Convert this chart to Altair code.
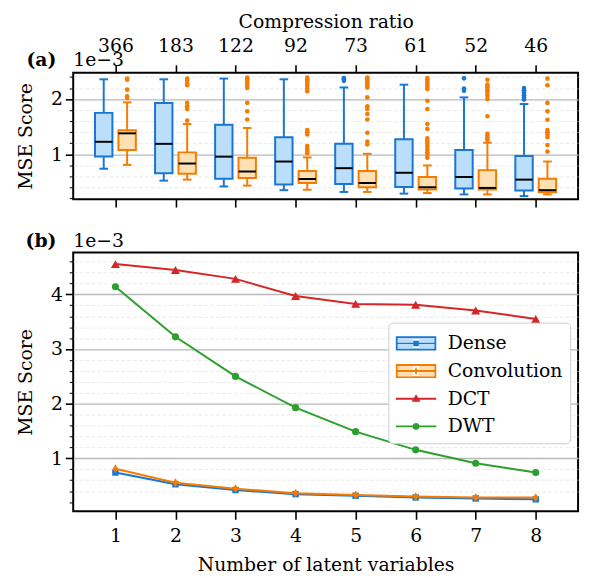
import altair as alt
import pandas as pd

# ---------------- data ----------------
latent = [1, 2, 3, 4, 5, 6, 7, 8]
ratios = [366, 183, 122, 92, 73, 61, 52, 46]
models = ["Dense", "Convolution"]

# box-plot statistics (units of 1e-3)
dense_lo = [0.74, 0.525, 0.42, 0.352, 0.32, 0.29, 0.275, 0.245]
dense_q1 = [0.96, 0.66, 0.56, 0.453, 0.464, 0.41, 0.382, 0.346]
dense_med = [1.227, 1.19, 0.959, 0.87, 0.75, 0.667, 0.59, 0.543]
dense_q3 = [1.75, 1.93, 1.536, 1.31, 1.19, 1.275, 1.078, 0.97]
dense_hi = [2.357, 2.357, 2.37, 2.357, 2.21, 2.26, 2.03, 1.91]

conv_lo = [0.81, 0.543, 0.435, 0.36, 0.32, 0.30, 0.275, 0.275]
conv_q1 = [1.078, 0.65, 0.572, 0.482, 0.405, 0.364, 0.364, 0.316]
conv_med = [1.38, 0.834, 0.69, 0.554, 0.482, 0.405, 0.393, 0.352]
conv_q3 = [1.435, 1.036, 0.94, 0.70, 0.70, 0.59, 0.715, 0.56]
conv_hi = [1.94, 1.548, 1.477, 0.945, 1.01, 0.80, 1.21, 0.87]

dense_out = [
    [], [], [], [],
    [2.38, 2.36, 2.33],
    [],
    [2.375, 2.19, 2.15],
    [2.20, 2.16, 2.12, 2.07, 2.03, 1.99],
]
conv_out = [
    [2.37, 2.35, 2.17, 2.05, 2.02],
    [2.37, 2.33, 2.28, 2.25, 1.93, 1.87, 1.82, 1.61],
    [2.39, 2.36, 2.33, 2.29, 2.25, 2.20, 1.93, 1.78, 1.63],
    [2.39, 2.36, 2.33, 2.29, 2.25, 2.19, 2.14, 1.44, 1.40, 1.36, 1.15, 1.10, 1.06, 1.02],
    [2.39, 2.36, 2.33, 2.30, 2.27, 2.24, 2.21, 2.03, 1.87, 1.82, 1.73, 1.63, 1.39, 1.23, 1.18],
    [2.38, 2.35, 2.31, 2.27, 2.22, 2.18, 1.97, 1.82, 1.55, 1.46, 1.29, 1.24, 1.19, 1.14,
     1.09, 1.04, 0.99, 0.94],
    [2.35, 2.26, 2.23, 2.20, 2.16, 2.12, 2.06, 2.00, 1.69, 1.37, 1.33, 1.29, 1.26],
    [2.37, 2.25, 1.93, 1.78, 1.625, 1.44, 1.40, 1.36, 1.31, 1.17, 1.05],
]

# line chart (units of 1e-3)
line_series = ["Dense", "Convolution", "DCT", "DWT"]
dense_mse = [0.74, 0.525, 0.42, 0.345, 0.315, 0.285, 0.265, 0.25]
conv_mse = [0.81, 0.553, 0.445, 0.36, 0.33, 0.30, 0.282, 0.282]
dct_mse = [4.555, 4.447, 4.284, 3.97, 3.826, 3.81, 3.705, 3.55]
dwt_mse = [4.14, 3.224, 2.50, 1.928, 1.488, 1.156, 0.91, 0.74]

y_ticks_a = [0.2, 0.4, 0.6, 0.8, 1, 1.2, 1.4, 1.6, 1.8, 2, 2.2, 2.4]
y_ticks_b = [0.2, 0.4, 0.6, 0.8, 1, 1.2, 1.4, 1.6, 1.8, 2, 2.2, 2.4, 2.6, 2.8, 3,
             3.2, 3.4, 3.6, 3.8, 4, 4.2, 4.4, 4.6]

# ---------------- tables ----------------
box_rows = []
for m, lo, q1, med, q3, hi in [
    ("Dense", dense_lo, dense_q1, dense_med, dense_q3, dense_hi),
    ("Convolution", conv_lo, conv_q1, conv_med, conv_q3, conv_hi),
]:
    for i, l in enumerate(latent):
        box_rows.append(dict(latent=l, model=m, lo=lo[i], q1=q1[i], med=med[i], q3=q3[i], hi=hi[i]))
box_df = pd.DataFrame(box_rows)

out_rows = []
for m, outs in [("Dense", dense_out), ("Convolution", conv_out)]:
    for i, l in enumerate(latent):
        for v in outs[i]:
            out_rows.append(dict(latent=l, model=m, value=v))
out_df = pd.DataFrame(out_rows)

line_rows = []
for s, vals in zip(line_series, [dense_mse, conv_mse, dct_mse, dwt_mse]):
    for l, v in zip(latent, vals):
        line_rows.append(dict(latent=l, series=s, value=v))
line_df = pd.DataFrame(line_rows)

# ---------------- style ----------------
SERIF = "DejaVu Serif"
FS = 19
BLUE, BLUE_L = "#1976D2", "#BBDEFB"
ORANGE, ORANGE_L = "#F57C00", "#FFE0B2"
RED, GREEN = "#D62728", "#2CA02C"
NONE = "rgba(0,0,0,0)"
INT_TEST = "abs(datum.value - round(datum.value)) < 0.001"
W = 511

xscale = alt.Scale(domain=[0.297, 8.705], nice=False, zero=False)


def y_axis(vals):
    return alt.Axis(
        values=vals,
        labelExpr=f"{INT_TEST} ? format(datum.value, 'd') : ''",
        title="MSE Score",
        grid=True,
        gridColor={"condition": {"test": INT_TEST, "value": "#b8b8b8"}, "value": "#e6e6e6"},
        gridDash={"condition": {"test": INT_TEST, "value": []}, "value": [4, 2]},
        gridWidth={"condition": {"test": INT_TEST, "value": 1.3}, "value": 0.8},
        gridOpacity={"condition": {"test": "datum.value < 0.25", "value": 0}, "value": 1},
        tickSize={"condition": {"test": INT_TEST, "value": 8}, "value": 4},
        tickWidth={"condition": {"test": INT_TEST, "value": 1.6}, "value": 1.0},
        domain=False,
        labelPadding=3,
        titlePadding=15,
        labelOverlap=False,
    )


yaxis_a = y_axis(y_ticks_a)
yaxis_b = y_axis(y_ticks_b)
yscale_a = alt.Scale(domain=[0.19, 2.477], nice=False, zero=False)
yscale_b = alt.Scale(domain=[0.03, 4.767], nice=False, zero=False)

top_axis = alt.Axis(
    orient="top", values=latent, labelExpr=f"{ratios}[datum.value - 1]",
    title="Compression ratio", grid=False, domain=False, tickSize=8, tickWidth=1.6,
    labelPadding=9, titlePadding=6, labelFlush=False,
)
bottom_axis_a = alt.Axis(
    orient="bottom", values=latent, labels=False, title=None, grid=False,
    domain=False, tickSize=8, tickWidth=1.6,
)
xaxis_b = alt.Axis(
    orient="bottom", values=latent, format="d", title="Number of latent variables",
    grid=False, domain=False, tickSize=8, tickWidth=1.6, labelPadding=8,
    titlePadding=10, labelFlush=False,
)

color_m = alt.Color("model:N", scale=alt.Scale(domain=models, range=[BLUE, ORANGE]), legend=None)
fill_m = alt.Fill("model:N", scale=alt.Scale(domain=models, range=[BLUE_L, ORANGE_L]), legend=None)
stroke_m = alt.Stroke("model:N", scale=alt.Scale(domain=models, range=[BLUE, ORANGE]), legend=None)


def XA(f):
    return alt.X(f"{f}:Q", scale=xscale, axis=top_axis)


def YA(f):
    return alt.Y(f"{f}:Q", scale=yscale_a, axis=yaxis_a)


box_base = alt.Chart(box_df).transform_calculate(
    pos="datum.latent + (datum.model === 'Dense' ? -0.195 : 0.195)"
).transform_calculate(
    bl="datum.pos - 0.145", br="datum.pos + 0.145",
    cl="datum.pos - 0.072", cr="datum.pos + 0.072",
)

whisker = box_base.mark_rule(strokeWidth=2).encode(x=XA("pos"), y=YA("lo"), y2="hi:Q", color=color_m)
cap_lo = box_base.mark_rule(strokeWidth=2).encode(x=XA("cl"), x2="cr:Q", y=YA("lo"), color=color_m)
cap_hi = box_base.mark_rule(strokeWidth=2).encode(x=XA("cl"), x2="cr:Q", y=YA("hi"), color=color_m)
boxes = box_base.mark_rect(strokeWidth=2).encode(
    x=XA("bl"), x2="br:Q", y=YA("q1"), y2="q3:Q", fill=fill_m, stroke=stroke_m)
median = box_base.mark_rule(strokeWidth=2, color="black").encode(
    x=XA("bl"), x2="br:Q", y=YA("med"))

outliers = alt.Chart(out_df).transform_calculate(
    pos="datum.latent + (datum.model === 'Dense' ? -0.195 : 0.195)"
).mark_circle(size=22, opacity=1).encode(
    x=alt.X("pos:Q", scale=xscale, axis=bottom_axis_a), y=YA("value"), color=color_m)


def label_text(txt, dx, bold, dy):
    return alt.Chart(pd.DataFrame({"t": [txt]})).mark_text(
        font=SERIF, fontSize=FS, fontWeight="bold" if bold else "normal",
        align="right" if bold else "left", baseline="alphabetic", color="black",
    ).encode(x=alt.value(dx), y=alt.value(dy), text="t:N")


top = alt.layer(
    alt.layer(whisker, cap_lo, cap_hi, boxes, median),
    outliers,
    label_text("(a)", -17, True, -7),
    label_text("1e\u22123", 0, False, -7),
).resolve_scale(x="independent").properties(width=W, height=128)

# ---------------- bottom panel ----------------
DIAMOND = "M0,-1L0.6,0L0,1L-0.6,0Z"
RING = "M-1.46,-0.51H1.46V0.51H-1.46Z M-1.32,-0.37V0.37H1.32V-0.37Z M-1.32,-0.07H1.32V0.07H-1.32Z"
BAR = "M-1.46,-0.07H1.46V0.07H-1.46Z"
LEG_DENSE = RING + " M-0.2,-0.2H0.2V0.2H-0.2Z"
LEG_CONV = RING + " M0,-0.32L0.11,0L0,0.32L-0.11,0Z"
LEG_DCT = BAR + " M0,-0.32L0.32,0.22L-0.32,0.22Z"
LEG_DWT = BAR + " M-0.25,0A0.25,0.25 0 0,1 0.25,0A0.25,0.25 0 0,1 -0.25,0Z"
STRIPES = ("M-1.32,-0.37H-0.21V-0.07H-1.32Z M0.21,-0.37H1.32V-0.07H0.21Z "
           "M-1.32,0.07H-0.21V0.37H-1.32Z M0.21,0.07H1.32V0.37H0.21Z")

xb = alt.X("latent:Q", scale=xscale, axis=xaxis_b)
yb = alt.Y("value:Q", scale=yscale_b, axis=yaxis_b)

series_colors = [BLUE, ORANGE, RED, GREEN]
marker_style = {"Dense": ("square", 42), "Convolution": (DIAMOND, 81),
                "DCT": ("triangle-up", 85), "DWT": ("circle", 52)}
series_layers = []
for s, c in zip(line_series, series_colors):
    shp, sz = marker_style[s]
    src = alt.Chart(line_df).transform_filter(alt.datum.series == s)
    series_layers.append(src.mark_line(strokeWidth=2, color=c).encode(x=xb, y=yb))
    series_layers.append(src.mark_point(filled=True, opacity=1, shape=shp, size=sz, color=c)
                         .encode(x=xb, y=yb))

LEG_X, LEG_Y, LEG_PAD, LEG_ROW = 319, 71, 7, 4
leg = alt.Legend(
    orient="none", legendX=LEG_X, legendY=LEG_Y, title=None,
    symbolSize=784, symbolOffset=7, symbolStrokeWidth=0,
    labelFont=SERIF, labelFontSize=FS, labelColor="black", labelOffset=18,
    fillColor="white", strokeColor="#cccccc", cornerRadius=4, padding=LEG_PAD,
    rowPadding=LEG_ROW, zindex=1,
)
legend_layer = alt.Chart(line_df).transform_filter("false").mark_point(
    filled=True, opacity=1
).encode(
    x=xb, y=yb,
    color=alt.Color("series:N", scale=alt.Scale(domain=line_series, range=series_colors),
                    legend=leg),
    shape=alt.Shape("series:N", scale=alt.Scale(domain=line_series,
                    range=[LEG_DENSE, LEG_CONV, LEG_DCT, LEG_DWT]), legend=leg),
)

# light box fill of the Dense / Convolution legend symbols (drawn over the main legend)
fill_names = [s + " " for s in line_series]
leg_fill = alt.Legend(
    orient="none", legendX=LEG_X, legendY=LEG_Y, title=None,
    symbolType=STRIPES, symbolSize=784, symbolOffset=7, symbolStrokeWidth=0,
    labelFont=SERIF, labelFontSize=FS, labelColor=NONE, labelOffset=18,
    fillColor=NONE, strokeColor=NONE, padding=LEG_PAD, rowPadding=LEG_ROW, zindex=2,
)
legend_fill_layer = alt.Chart(line_df).transform_filter("false").transform_calculate(
    series2="datum.series + ' '"
).mark_point(filled=True, opacity=1).encode(
    x=xb, y=yb,
    fill=alt.Fill("series2:N", scale=alt.Scale(domain=fill_names,
                  range=[BLUE_L, ORANGE_L, NONE, NONE]), legend=leg_fill),
)

bottom = alt.layer(
    *series_layers, legend_layer, legend_fill_layer,
    label_text("(b)", -17, True, -6),
    label_text("1e\u22123", 0, False, -6),
).properties(width=W, height=262)

chart = alt.vconcat(top, bottom, spacing=54, bounds="flush").resolve_scale(
    color="independent", fill="independent", stroke="independent",
    shape="independent", size="independent",
).properties(
    padding={"left": 7, "top": 0, "right": 5, "bottom": 0}, background="white"
).configure_view(stroke="black", strokeWidth=2).configure_axis(
    labelFont=SERIF, titleFont=SERIF, labelFontSize=FS, titleFontSize=FS,
    titleFontWeight="normal", labelColor="black", titleColor="black", tickColor="black",
)

chart.save("out.html", embed_options={"renderer": "svg", "actions": False})
